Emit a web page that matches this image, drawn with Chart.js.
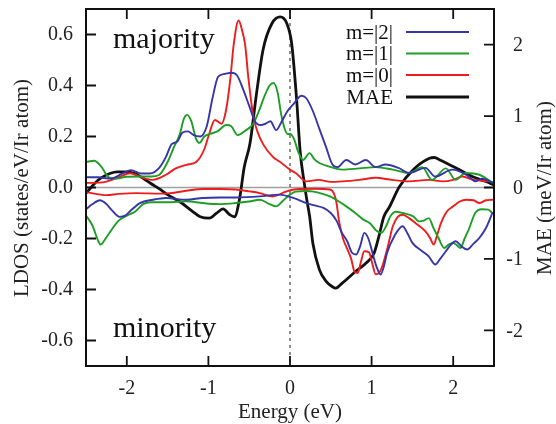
<!DOCTYPE html>
<html><head><meta charset="utf-8">
<script src="https://cdn.jsdelivr.net/npm/chart.js@4.4.0/dist/chart.umd.min.js"></script>
<style>html,body{margin:0;padding:0;background:#fff;}canvas{display:block;}</style>
</head><body>
<canvas id="c" width="556" height="424"></canvas>
<script>
// ---- Data (energy in eV; LDOS in states/eV/Ir atom; MAE in meV/Ir atom) ----
const xTicks = [-2, -1, 0, 1, 2];
const ldosTicks = [-0.6, -0.4, -0.2, 0.0, 0.2, 0.4, 0.6];
const maeTicks = [-2, -1, 0, 1, 2];
const seriesLabels = ['m=|2|', 'm=|1|', 'm=|0|', 'MAE'];
const panelLabels = ['majority', 'minority'];

// m=|2| majority
const m2UpE = [-2.5,-2.35,-2.2,-2.05,-1.95,-1.82,-1.72,-1.6,-1.52,-1.45,-1.38,-1.32,-1.25,-1.18,-1.1,-1.02,-0.95,-0.88,-0.8,-0.72,-0.65,-0.58,-0.5,-0.43,-0.36,-0.3,-0.24,-0.17,-0.1,-0.03,0.05,0.14,0.2,0.28,0.36,0.44,0.52,0.58,0.69,0.8,0.93,1.05,1.17,1.33,1.46,1.66,1.78,1.99,2.1,2.19,2.27,2.35,2.48];
const m2UpV = [0.04,0.04,0.035,0.055,0.068,0.055,0.055,0.078,0.12,0.17,0.18,0.215,0.22,0.205,0.2,0.24,0.35,0.435,0.445,0.45,0.44,0.39,0.32,0.26,0.245,0.25,0.26,0.225,0.26,0.3,0.33,0.36,0.35,0.30,0.23,0.16,0.09,0.08,0.108,0.09,0.108,0.08,0.09,0.077,0.057,0.077,0.043,0.07,0.06,0.043,0.024,0.035,0.02];
// m=|1| majority
const m1UpE = [-2.5,-2.4,-2.32,-2.22,-2.12,-2.0,-1.85,-1.7,-1.6,-1.5,-1.42,-1.35,-1.3,-1.26,-1.21,-1.15,-1.11,-1.05,-0.98,-0.89,-0.78,-0.72,-0.64,-0.56,-0.45,-0.38,-0.31,-0.25,-0.2,-0.15,-0.11,-0.07,-0.03,0.0,0.05,0.1,0.16,0.24,0.3,0.36,0.48,0.64,0.85,1.05,1.26,1.46,1.62,1.74,1.91,2.03,2.15,2.32,2.48];
const m1UpV = [0.10,0.105,0.085,0.04,0.035,0.042,0.043,0.043,0.05,0.1,0.16,0.21,0.27,0.285,0.26,0.19,0.175,0.2,0.21,0.22,0.245,0.24,0.205,0.22,0.25,0.30,0.36,0.40,0.41,0.37,0.29,0.235,0.21,0.21,0.19,0.14,0.108,0.135,0.11,0.096,0.082,0.07,0.075,0.08,0.07,0.057,0.08,0.03,0.075,0.03,0.057,0.05,0.02];
// m=|0| majority
const m0UpE = [-2.5,-2.3,-2.1,-1.96,-1.8,-1.68,-1.52,-1.4,-1.27,-1.15,-1.05,-1.0,-0.92,-0.84,-0.78,-0.73,-0.69,-0.63,-0.59,-0.55,-0.51,-0.45,-0.4,-0.33,-0.21,-0.12,0.0,0.07,0.2,0.35,0.5,0.64,0.85,1.05,1.25,1.46,1.7,1.87,2.0,2.11,2.25,2.43];
const m0UpV = [0.018,0.02,0.04,0.056,0.037,0.03,0.05,0.075,0.089,0.1,0.15,0.2,0.265,0.25,0.31,0.43,0.56,0.655,0.62,0.56,0.43,0.28,0.22,0.17,0.12,0.10,0.07,0.057,0.024,0.03,0.022,0.024,0.03,0.038,0.03,0.024,0.03,0.024,0.03,0.043,0.03,0.024];
// m=|2| minority
const m2DnE = [-2.5,-2.42,-2.33,-2.25,-2.18,-2.09,-2.02,-1.96,-1.84,-1.68,-1.52,-1.27,-1.07,-0.86,-0.66,-0.37,-0.13,0.04,0.2,0.3,0.41,0.5,0.57,0.64,0.7,0.76,0.81,0.86,0.91,0.96,1.01,1.06,1.11,1.15,1.19,1.28,1.38,1.44,1.5,1.62,1.7,1.78,1.84,1.91,1.97,2.03,2.1,2.17,2.25,2.32,2.4,2.48];
const m2DnV = [-0.085,-0.065,-0.05,-0.065,-0.09,-0.115,-0.11,-0.093,-0.061,-0.048,-0.041,-0.048,-0.041,-0.039,-0.039,-0.035,-0.028,-0.041,-0.061,-0.07,-0.08,-0.1,-0.13,-0.18,-0.21,-0.256,-0.263,-0.23,-0.178,-0.2,-0.255,-0.31,-0.341,-0.31,-0.256,-0.19,-0.152,-0.18,-0.217,-0.25,-0.27,-0.302,-0.28,-0.25,-0.225,-0.211,-0.23,-0.243,-0.22,-0.198,-0.16,-0.1];
// m=|1| minority
const m1DnE = [-2.5,-2.42,-2.35,-2.32,-2.26,-2.2,-2.1,-2.0,-1.9,-1.8,-1.7,-1.5,-1.27,-1.07,-0.86,-0.66,-0.5,-0.37,-0.25,-0.17,-0.08,0.0,0.07,0.2,0.29,0.4,0.49,0.6,0.69,0.8,0.9,0.98,1.06,1.12,1.18,1.23,1.3,1.38,1.51,1.58,1.64,1.7,1.76,1.82,1.89,1.94,1.99,2.04,2.09,2.14,2.19,2.27,2.35,2.43,2.48];
const m1DnV = [-0.11,-0.15,-0.21,-0.224,-0.2,-0.172,-0.13,-0.11,-0.095,-0.065,-0.058,-0.058,-0.054,-0.061,-0.065,-0.061,-0.055,-0.048,-0.065,-0.074,-0.05,-0.028,-0.016,-0.014,-0.016,-0.025,-0.035,-0.055,-0.074,-0.1,-0.126,-0.14,-0.17,-0.178,-0.15,-0.113,-0.095,-0.1,-0.113,-0.133,-0.13,-0.12,-0.16,-0.198,-0.237,-0.225,-0.217,-0.225,-0.237,-0.2,-0.165,-0.1,-0.085,-0.087,-0.1];
// m=|0| minority
const m0DnE = [-2.5,-2.25,-2.1,-1.88,-1.6,-1.47,-1.25,-1.07,-0.85,-0.66,-0.5,-0.37,-0.21,-0.05,0.05,0.12,0.3,0.49,0.54,0.57,0.6,0.65,0.7,0.75,0.79,0.83,0.87,0.91,0.97,1.01,1.05,1.09,1.13,1.2,1.26,1.32,1.38,1.46,1.54,1.66,1.72,1.76,1.8,1.85,1.92,2.0,2.08,2.16,2.25,2.32,2.4,2.48];
const m0DnV = [-0.018,-0.03,-0.025,-0.022,-0.024,-0.022,-0.012,-0.006,-0.006,-0.008,-0.015,-0.022,-0.035,-0.016,-0.008,-0.006,-0.005,-0.008,-0.025,-0.06,-0.13,-0.2,-0.24,-0.28,-0.33,-0.335,-0.29,-0.25,-0.255,-0.3,-0.34,-0.335,-0.31,-0.23,-0.152,-0.115,-0.107,-0.12,-0.14,-0.172,-0.2,-0.224,-0.19,-0.14,-0.095,-0.074,-0.055,-0.048,-0.05,-0.061,-0.05,-0.048];
// MAE
const maeE = [-2.5,-2.4,-2.32,-2.2,-2.12,-2.0,-1.91,-1.8,-1.71,-1.6,-1.5,-1.35,-1.2,-1.1,-0.99,-0.9,-0.82,-0.74,-0.68,-0.62,-0.56,-0.49,-0.41,-0.33,-0.22,-0.12,-0.04,0.02,0.08,0.125,0.17,0.21,0.24,0.28,0.36,0.44,0.52,0.56,0.64,0.81,0.93,1.03,1.09,1.15,1.22,1.34,1.51,1.71,1.77,1.83,2.04,2.24,2.41,2.49];
const maeV = [-0.08,0.05,0.13,0.2,0.22,0.22,0.2,0.13,0.06,-0.02,-0.1,-0.2,-0.33,-0.41,-0.43,-0.36,-0.3,-0.38,-0.41,-0.17,0.29,0.62,1.32,1.93,2.3,2.39,2.3,2.02,1.25,0.5,0.1,-0.2,-0.4,-0.78,-1.15,-1.31,-1.39,-1.41,-1.34,-1.17,-1.06,-0.92,-0.68,-0.41,-0.27,0.01,0.25,0.41,0.42,0.39,0.27,0.15,0.08,0.04];

const BLUE = '#3636a8', GREEN = '#1e9e24', RED = '#ee1c1c', BLACK = '#111';
const pts = (E, V) => E.map((e, i) => ({x: e, y: V[i]}));
const FONT = '"Liberation Serif", "DejaVu Serif", serif';

function ds(label, E, V, color, axis, width) {
  return {label, data: pts(E, V), borderColor: color, backgroundColor: color,
    borderWidth: width, pointRadius: 0, cubicInterpolationMode: 'monotone', fill: false, yAxisID: axis};
}

const deco = {
  id: 'deco',
  beforeDatasetsDraw(chart) {
    const {ctx, chartArea: a, scales: {x, y}} = chart;
    ctx.save();
    const y0 = y.getPixelForValue(0);
    ctx.strokeStyle = '#a0a0a0'; ctx.lineWidth = 1.5;
    ctx.beginPath(); ctx.moveTo(a.left, y0); ctx.lineTo(a.right, y0); ctx.stroke();
    const x0 = x.getPixelForValue(0);
    ctx.setLineDash([3, 4]); ctx.strokeStyle = '#444'; ctx.lineWidth = 1.2;
    ctx.beginPath(); ctx.moveTo(x0, a.top); ctx.lineTo(x0, a.bottom); ctx.stroke();
    ctx.restore();
  },
  afterDraw(chart) {
    const {ctx, chartArea: a, scales: {x, y, y2}} = chart;
    ctx.save();
    // frame
    ctx.strokeStyle = '#111'; ctx.lineWidth = 2;
    ctx.strokeRect(a.left, a.top, a.right - a.left, a.bottom - a.top);
    const L = 10;
    ctx.lineWidth = 1.8;
    ctx.beginPath();
    xTicks.forEach(v => { const p = x.getPixelForValue(v);
      ctx.moveTo(p, a.bottom); ctx.lineTo(p, a.bottom - L);
      ctx.moveTo(p, a.top); ctx.lineTo(p, a.top + L); });
    ldosTicks.forEach(v => { const p = y.getPixelForValue(v);
      ctx.moveTo(a.left, p); ctx.lineTo(a.left + L, p); });
    maeTicks.forEach(v => { const p = y2.getPixelForValue(v);
      ctx.moveTo(a.right, p); ctx.lineTo(a.right - L, p); });
    ctx.stroke();
    // right-axis tick labels (right aligned, as in the original)
    ctx.fillStyle = '#222';
    ctx.font = '20px ' + FONT; ctx.textAlign = 'right'; ctx.textBaseline = 'middle';
    maeTicks.forEach(v => { ctx.fillText(String(v), 523, y2.getPixelForValue(v) + 1); });
    // panel labels
    ctx.fillStyle = '#111';
    ctx.font = '30px ' + FONT; ctx.textAlign = 'left'; ctx.textBaseline = 'alphabetic';
    ctx.fillText(panelLabels[0], 113, 48);
    ctx.fillText(panelLabels[1], 113, 337);
    // legend
    const colors = [BLUE, GREEN, RED, BLACK];
    const widths = [2, 2, 2, 2.8];
    const rows = [32, 53.5, 75, 97];
    ctx.font = '21px ' + FONT; ctx.textAlign = 'right'; ctx.textBaseline = 'middle';
    seriesLabels.forEach((t, i) => {
      ctx.fillStyle = '#111';
      ctx.fillText(t, 393, rows[i] + 1);
      ctx.strokeStyle = colors[i]; ctx.lineWidth = widths[i];
      ctx.beginPath(); ctx.moveTo(406, rows[i]); ctx.lineTo(469, rows[i]); ctx.stroke();
    });
    // axis titles
    ctx.fillStyle = '#222';
    ctx.font = '21px ' + FONT; ctx.textAlign = 'center'; ctx.textBaseline = 'middle';
    ctx.fillText('Energy (eV)', 290, 412);
    ctx.save(); ctx.translate(22, 188); ctx.rotate(-Math.PI / 2);
    ctx.fillText('LDOS (states/eV/Ir atom)', 0, 0); ctx.restore();
    ctx.save(); ctx.translate(545, 188); ctx.rotate(-Math.PI / 2);
    ctx.fillText('MAE (meV/Ir atom)', 0, 0); ctx.restore();
    ctx.restore();
  }
};

function zeroPad(s) { s.paddingTop = 0; s.paddingBottom = 0; s.paddingLeft = 0; s.paddingRight = 0; }
const tickFont = {family: FONT, size: 20};

new Chart(document.getElementById('c'), {
  type: 'line',
  data: {datasets: [
    ds('m=|2|', m2UpE, m2UpV, BLUE, 'y', 1.9),
    ds('m=|1|', m1UpE, m1UpV, GREEN, 'y', 1.9),
    ds('m=|0|', m0UpE, m0UpV, RED, 'y', 1.9),
    ds('m=|2| min', m2DnE, m2DnV, BLUE, 'y', 1.9),
    ds('m=|1| min', m1DnE, m1DnV, GREEN, 'y', 1.9),
    ds('m=|0| min', m0DnE, m0DnV, RED, 'y', 1.9),
    ds('MAE', maeE, maeV, BLACK, 'y2', 2.8)
  ]},
  options: {
    responsive: false, animation: false, devicePixelRatio: 1,
    layout: {padding: {top: 9, left: 0, right: 0, bottom: 0}},
    plugins: {legend: {display: false}, tooltip: {enabled: false}},
    elements: {line: {borderCapStyle: 'round', borderJoinStyle: 'round'}},
    scales: {
      x: {type: 'linear', min: -2.5, max: 2.5,
        grid: {display: false, drawTicks: false}, border: {display: false},
        afterBuildTicks: s => { s.ticks = xTicks.map(v => ({value: v})); },
        afterFit: s => { s.height = 58; zeroPad(s); },
        ticks: {font: tickFont, color: '#222', padding: 11, maxRotation: 0, callback: v => String(v)}},
      y: {type: 'linear', position: 'left', min: -0.7, max: 0.7,
        grid: {display: false, drawTicks: false}, border: {display: false},
        afterBuildTicks: s => { s.ticks = ldosTicks.map(v => ({value: v})); },
        afterFit: s => { s.width = 86; zeroPad(s); },
        ticks: {font: tickFont, color: '#222', padding: 13, callback: v => Number(v).toFixed(1)}},
      y2: {type: 'linear', position: 'right', min: -2.5, max: 2.5,
        grid: {display: false, drawTicks: false}, border: {display: false},
        afterBuildTicks: s => { s.ticks = maeTicks.map(v => ({value: v})); },
        afterFit: s => { s.width = 62; zeroPad(s); },
        ticks: {display: false}}
    }
  },
  plugins: [deco]
});
</script>
</body></html>
